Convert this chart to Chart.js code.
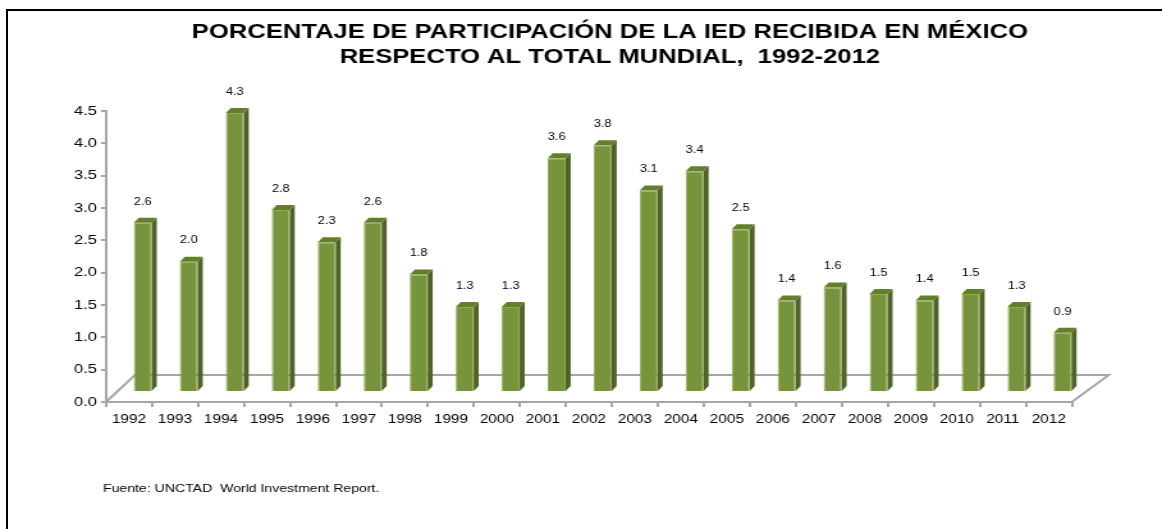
<!DOCTYPE html>
<html>
<head>
<meta charset="utf-8">
<script src="https://cdn.jsdelivr.net/npm/chart.js@4.4.0/dist/chart.umd.min.js"></script>
<style>
  body { margin: 0; background: #fff; }
  #wrap { position: relative; width: 1162px; height: 529px; overflow: hidden; }
  #frame { position: absolute; left: 6px; top: 9px; width: 2000px; height: 2000px;
           border-top: 2px solid #000; border-left: 2px solid #000; }
  canvas { position: absolute; left: 0; top: 0; transform-origin: 0 0; }
</style>
</head>
<body>
<div id="wrap">
  <div id="frame"></div>
  <canvas id="iedChart"></canvas>
</div>
<script>
// ====================== IED recibida en México, % del total mundial ======================
const years = ["1992", "1993", "1994", "1995", "1996", "1997", "1998", "1999", "2000", "2001",
  "2002", "2003", "2004", "2005", "2006", "2007", "2008", "2009", "2010", "2011", "2012"];
const shares = [2.6, 2.0, 4.3, 2.8, 2.3, 2.6, 1.8, 1.3, 1.3, 3.6,
  3.8, 3.1, 3.4, 2.5, 1.4, 1.6, 1.5, 1.4, 1.5, 1.3, 0.9];
const yTickValues = [0, 0.5, 1.0, 1.5, 2.0, 2.5, 3.0, 3.5, 4.0, 4.5];
const titleLines = ["PORCENTAJE DE PARTICIPACIÓN DE LA IED RECIBIDA EN MÉXICO", "RESPECTO AL TOTAL MUNDIAL,  1992-2012"];
const sourceNote = "Fuente: UNCTAD  World Investment Report.";

const FONT = "'Liberation Sans', Arial, sans-serif";
const AXIS_GREY = "#a6a6a6";

// the original picture is a horizontally stretched Excel chart:
// draw on a narrower canvas and stretch it back with css
const STRETCH = 1.28;
const W = Math.round(1162 / STRETCH);
const H = 529;
const sx = function (px) { return px / STRETCH; };

const canvas = document.getElementById("iedChart");
canvas.width = W;
canvas.height = H;
canvas.style.width = W + "px";
canvas.style.height = H + "px";
canvas.style.transform = "scaleX(" + (1162 / W) + ")";

// floor, side / top faces of each bar, value labels, title and source
const bar3d = {
  id: "bar3d",
  beforeDatasetsDraw(chart) {
    const { left, right, bottom } = chart.chartArea;
    const ctx = chart.ctx;
    ctx.save();
    ctx.strokeStyle = AXIS_GREY;
    ctx.lineWidth = 2;
    ctx.beginPath();
    ctx.moveTo(left, bottom);
    ctx.lineTo(left + sx(29), bottom - 27);
    ctx.lineTo(right + sx(37), bottom - 27);
    ctx.lineTo(right, bottom);
    ctx.stroke();
    ctx.restore();
  },
  afterDatasetsDraw(chart) {
    const ctx = chart.ctx;
    const meta = chart.getDatasetMeta(0);
    const dx = sx(5);
    const dy = 5;
    ctx.save();
    meta.data.forEach(function (bar, i) {
      const p = bar.getProps(["x", "y", "base", "width"], true);
      const l = p.x - p.width / 2;
      const r = p.x + p.width / 2;
      // side
      ctx.fillStyle = "#4f6228";
      ctx.beginPath();
      ctx.moveTo(r, p.y);
      ctx.lineTo(r + dx, p.y - dy);
      ctx.lineTo(r + dx, p.base - dy);
      ctx.lineTo(r, p.base);
      ctx.closePath();
      ctx.fill();
      // top
      ctx.fillStyle = "#62802c";
      ctx.beginPath();
      ctx.moveTo(l, p.y);
      ctx.lineTo(l + dx, p.y - dy);
      ctx.lineTo(r + dx, p.y - dy);
      ctx.lineTo(r, p.y);
      ctx.closePath();
      ctx.fill();
      // value label
      ctx.fillStyle = "#000";
      ctx.font = "10px " + FONT;
      ctx.textAlign = "center";
      ctx.textBaseline = "middle";
      ctx.fillText(shares[i].toFixed(1), p.x, p.y - 21);
    });
    ctx.restore();
  },
  afterDraw(chart) {
    const ctx = chart.ctx;
    ctx.save();
    ctx.fillStyle = "#000";
    ctx.textBaseline = "middle";
    ctx.textAlign = "center";
    ctx.font = "bold 20px " + FONT;
    ctx.fillText(titleLines[0], sx(610), 32);
    ctx.fillText(titleLines[1], sx(610), 57);
    ctx.textAlign = "left";
    ctx.font = "11px " + FONT;
    ctx.fillText(sourceNote, sx(103), 489);
    ctx.restore();
  },
};

new Chart(canvas.getContext("2d"), {
  type: "bar",
  data: {
    labels: years,
    datasets: [
      {
        label: "IED México",
        data: shares.map(function (v, i) { return { x: i, y: v }; }),
        xAxisID: "xb",
        yAxisID: "yb",
        backgroundColor: "#77933c",
        borderColor: "#8fad4f",
        borderWidth: 1,
        categoryPercentage: 1,
        barPercentage: 0.39,
      },
    ],
  },
  options: {
    responsive: false,
    animation: false,
    layout: {
      padding: { left: sx(106) - 30, right: W - sx(1072), top: 111, bottom: 97 },
    },
    scales: {
      x: {
        type: "category",
        offset: true,
        grid: { offset: true, drawOnChartArea: false, drawTicks: true, tickLength: 5, color: AXIS_GREY, lineWidth: 2 },
        border: { color: AXIS_GREY, width: 2 },
        ticks: { color: "#000", font: { family: FONT, size: 12 }, padding: 5, maxRotation: 0, autoSkip: false },
        afterFit: function (scale) { scale.height = 30; },
      },
      y: {
        min: 0,
        max: 4.5,
        afterBuildTicks: function (scale) {
          scale.ticks = yTickValues.map(function (v) { return { value: v }; });
        },
        grid: { drawOnChartArea: false, drawTicks: true, tickLength: 4, color: AXIS_GREY, lineWidth: 2 },
        border: { color: AXIS_GREY, width: 2 },
        ticks: {
          color: "#000",
          font: { family: FONT, size: 13 },
          padding: 3,
          callback: function (value) { return Number(value).toFixed(1); },
        },
        afterFit: function (scale) { scale.width = 30; },
      },
      xb: {
        type: "linear",
        display: false,
        offset: false,
        grid: { offset: false },
        min: -0.8,
        max: 20.2,
      },
      yb: {
        display: false,
        min: -0.17,
        max: 4.33,
      },
    },
    plugins: {
      legend: { display: false },
      tooltip: { enabled: false },
      title: { display: false },
    },
  },
  plugins: [bar3d],
});
</script>
</body>
</html>
